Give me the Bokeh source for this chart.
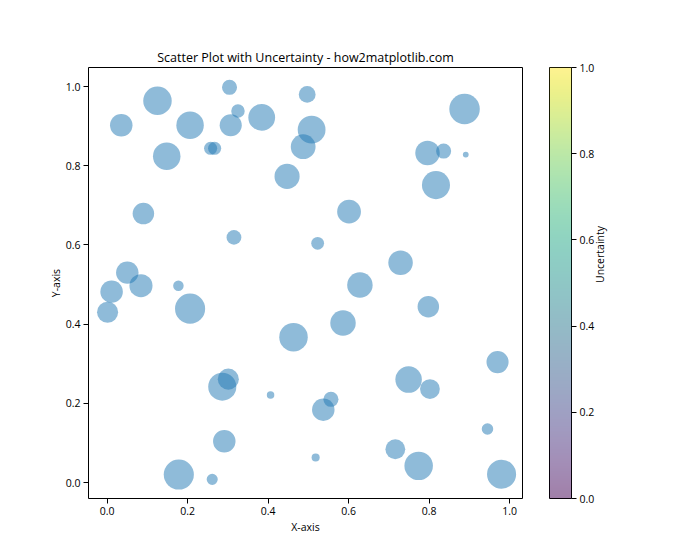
import math
import numpy as np
from bokeh.plotting import figure
from bokeh.layouts import row
from bokeh.models import Range1d, FixedTicker, PrintfTickFormatter, LinearColorMapper, ColumnDataSource
from bokeh.palettes import Viridis256
from bokeh.embed import file_html
from bokeh.resources import INLINE

# ---- data ----
x_vals = [0.035, 0.125, 0.304, 0.325, 0.206, 0.307, 0.384, 0.257, 0.267, 0.148,
          0.447, 0.090, 0.315, 0.050, 0.084, 0.011, 0.001, 0.177, 0.206, 0.463,
          0.286, 0.301, 0.406, 0.291, 0.178, 0.261, 0.497, 0.508, 0.487, 0.888,
          0.796, 0.836, 0.891, 0.817, 0.601, 0.523, 0.729, 0.628, 0.798, 0.586,
          0.970, 0.749, 0.802, 0.556, 0.537, 0.945, 0.518, 0.716, 0.774, 0.980]
y_vals = [0.902, 0.964, 0.998, 0.938, 0.902, 0.902, 0.922, 0.844, 0.844, 0.824,
          0.773, 0.679, 0.619, 0.530, 0.497, 0.482, 0.430, 0.497, 0.439, 0.367,
          0.242, 0.261, 0.221, 0.104, 0.020, 0.008, 0.980, 0.891, 0.848, 0.943,
          0.832, 0.837, 0.828, 0.751, 0.684, 0.604, 0.555, 0.499, 0.444, 0.403,
          0.304, 0.260, 0.236, 0.210, 0.184, 0.135, 0.063, 0.084, 0.042, 0.021]
uncertainty = [0.47, 0.773, 0.20, 0.157, 0.717, 0.453, 0.679, 0.147, 0.147, 0.717,
               0.592, 0.427, 0.192, 0.47, 0.497, 0.47, 0.41, 0.09, 0.866, 0.773,
               0.75, 0.41, 0.041, 0.47, 0.866, 0.102, 0.252, 0.733, 0.577, 0.89,
               0.563, 0.20, 0.022, 0.75, 0.53, 0.14, 0.563, 0.612, 0.427, 0.612,
               0.453, 0.663, 0.359, 0.20, 0.47, 0.11, 0.049, 0.359, 0.773, 0.807]
ticks = [0.0, 0.2, 0.4, 0.6, 0.8, 1.0]

FONT = "Open Sans"
TICK_FS = "10.5px"
LABEL_FS = "10.5px"

# marker diameter in px from matplotlib area s = 500*u (points^2) at 100 dpi
sizes = [math.sqrt(u * 500) * 100 / 72 + 1.2 for u in uncertainty]
src = ColumnDataSource(dict(x=x_vals, y=y_vals, s=sizes))

p = figure(width=540, height=560, output_backend="svg", toolbar_location=None,
           x_range=Range1d(-0.0464, 1.032), y_range=Range1d(-0.0404, 1.048),
           min_border_left=88, min_border_right=18, min_border_top=67, min_border_bottom=62,
           title="Scatter Plot with Uncertainty - how2matplotlib.com")
p.scatter("x", "y", size="s", source=src, fill_color="#1f77b4", fill_alpha=0.5,
          line_color=None)

p.title.align = "center"
p.title.text_font = FONT
p.title.text_font_size = "12.5px"
p.title.text_font_style = "normal"
p.title.text_color = "black"
p.title.standoff = 4

p.grid.visible = False
p.outline_line_color = "black"
p.outline_line_width = 1
p.background_fill_color = "white"
p.border_fill_color = "white"


def style_axis(ax):
    ax.ticker = FixedTicker(ticks=ticks)
    ax.formatter = PrintfTickFormatter(format="%.1f")
    ax.major_tick_out = 5
    ax.major_tick_in = 0
    ax.major_tick_line_color = "black"
    ax.minor_tick_line_color = None
    ax.axis_line_color = None
    ax.major_label_text_font = FONT
    ax.major_label_text_font_size = TICK_FS
    ax.major_label_text_color = "black"
    ax.axis_label_text_font = FONT
    ax.axis_label_text_font_size = LABEL_FS
    ax.axis_label_text_font_style = "normal"
    ax.axis_label_text_color = "black"
    ax.major_label_standoff = 3


style_axis(p.xaxis[0])
style_axis(p.yaxis[0])
p.xaxis.axis_label = "X-axis"
p.yaxis.axis_label = "Y-axis"
p.xaxis.axis_label_standoff = 2
p.yaxis.axis_label_standoff = 0

# ---- colour bar as a second figure ----
cb_vals = np.linspace(0, 1, 256).reshape(256, 1)
mapper = LinearColorMapper(palette=Viridis256, low=0, high=1)
c = figure(width=160, height=560, output_backend="svg", toolbar_location=None,
           x_range=Range1d(0, 1), y_range=Range1d(0, 1),
           x_axis_location=None, y_axis_location="right",
           min_border_left=9, min_border_right=129, min_border_top=67, min_border_bottom=62)
c.image(image=[cb_vals], x=0, y=0, dw=1, dh=1, color_mapper=mapper, global_alpha=0.5)
c.grid.visible = False
c.outline_line_color = "black"
c.outline_line_width = 1
c.border_fill_color = "white"
ya = c.yaxis[0]
style_axis(ya)
ya.axis_label = "Uncertainty"
ya.axis_label_orientation = math.pi / 2
ya.axis_label_standoff = 3

layout = row(p, c, spacing=0)
open("out.html", "w").write(file_html(layout, INLINE))
